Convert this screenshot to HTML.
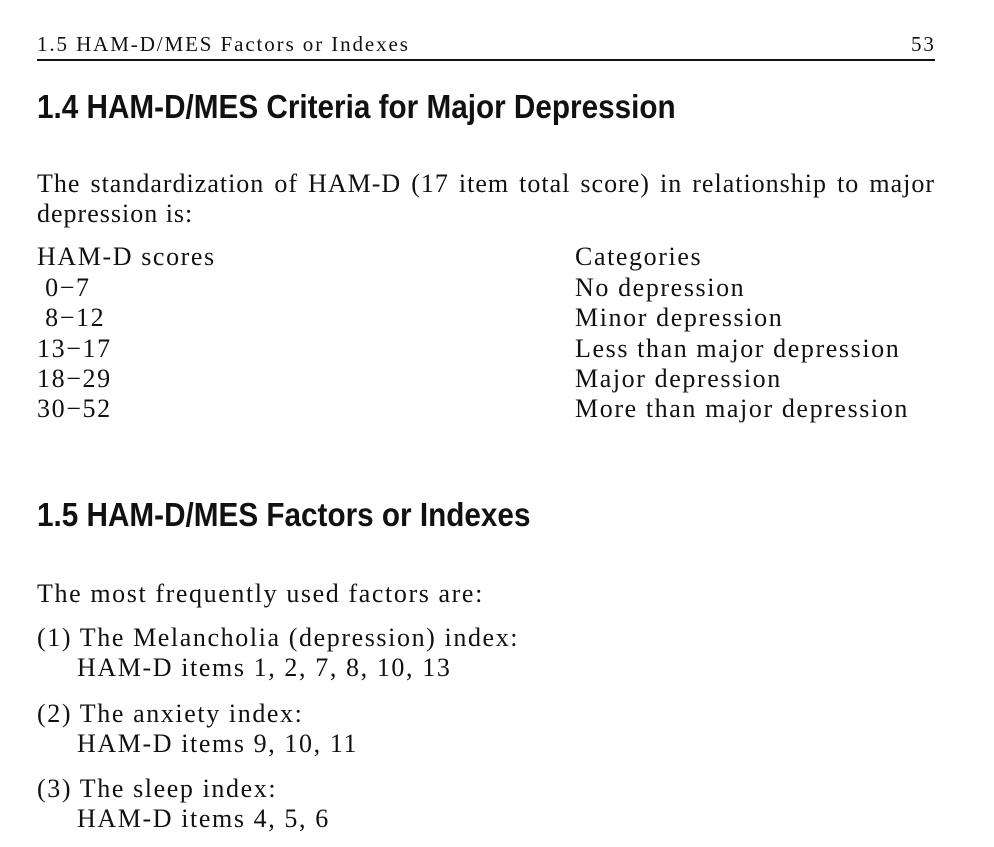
<!DOCTYPE html>
<html><head><meta charset="utf-8"><style>
body{margin:0;width:994px;height:847px;background:#fff;position:relative;overflow:hidden;font-family:"Liberation Serif",serif;color:#111}
.t{position:absolute;white-space:nowrap;font-size:26px;letter-spacing:1.6px;line-height:30px}
.h{position:absolute;white-space:nowrap;font-family:"Liberation Sans",sans-serif;font-weight:bold;font-size:33px;transform-origin:left center;transform:scaleX(0.9);line-height:36px}
.hd{position:absolute;font-size:21px;letter-spacing:1.9px;line-height:22px;white-space:nowrap}
</style></head><body>
<div class="hd" style="left:37px;top:33px">1.5 HAM-D/MES Factors or Indexes</div>
<div class="hd" style="left:911px;top:33px">53</div>
<div style="position:absolute;left:37px;top:59px;width:898px;height:1.5px;background:#111"></div>
<div class="h" style="left:37px;top:89px">1.4 HAM-D/MES Criteria for Major Depression</div>
<div class="t" style="left:37px;top:169px;width:898px;white-space:normal;text-align:justify;text-align-last:left;letter-spacing:1px">The standardization of HAM-D (17 item total score) in relationship to major depression is:</div>
<div class="t" style="left:37px;top:242px">HAM-D scores</div>
<div class="t" style="left:575px;top:242px">Categories</div>
<div class="t" style="left:37px;top:273px">&nbsp;0−7</div>
<div class="t" style="left:575px;top:273px">No depression</div>
<div class="t" style="left:37px;top:303px">&nbsp;8−12</div>
<div class="t" style="left:575px;top:303px">Minor depression</div>
<div class="t" style="left:37px;top:334px">13−17</div>
<div class="t" style="left:575px;top:334px">Less than major depression</div>
<div class="t" style="left:37px;top:364px">18−29</div>
<div class="t" style="left:575px;top:364px">Major depression</div>
<div class="t" style="left:37px;top:394px">30−52</div>
<div class="t" style="left:575px;top:394px">More than major depression</div>
<div class="h" style="left:37px;top:497px">1.5 HAM-D/MES Factors or Indexes</div>
<div class="t" style="left:37px;top:579px">The most frequently used factors are:</div>
<div class="t" style="left:37px;top:623px">(1) The Melancholia (depression) index:</div>
<div class="t" style="left:77px;top:653px">HAM-D items 1, 2, 7, 8, 10, 13</div>
<div class="t" style="left:37px;top:699px">(2) The anxiety index:</div>
<div class="t" style="left:77px;top:729px">HAM-D items 9, 10, 11</div>
<div class="t" style="left:37px;top:774px">(3) The sleep index:</div>
<div class="t" style="left:77px;top:804px">HAM-D items 4, 5, 6</div>
</body></html>
